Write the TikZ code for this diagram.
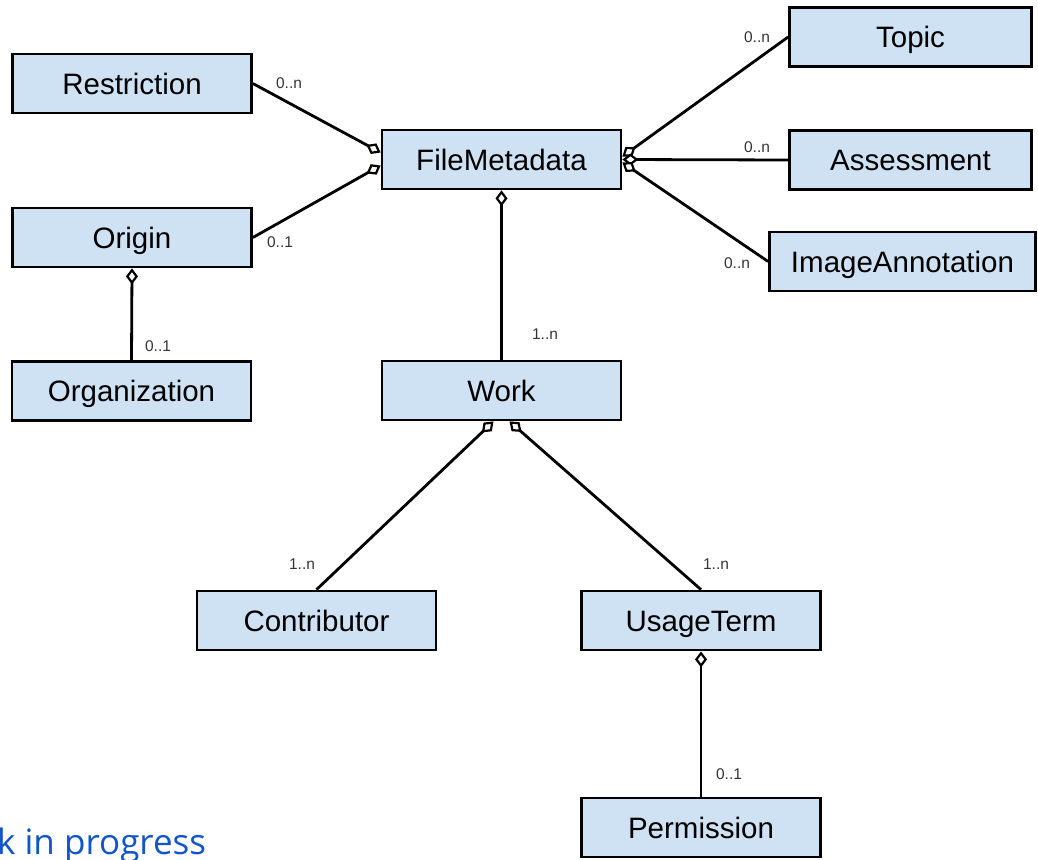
\documentclass[tikz,border=0pt]{standalone}
\usepackage{fontspec}
\setmainfont{Liberation Sans}
\newfontfamily\notefont{Open Sans}
\usetikzlibrary{arrows.meta}
\definecolor{boxblue}{HTML}{CFE2F3}
\definecolor{notblue}{HTML}{1155CC}
\definecolor{lblgray}{HTML}{333333}
\tikzset{
  cls/.style={draw=black, line width=2.8pt, fill=boxblue, inner sep=0pt,
    minimum width=239pt, minimum height=59pt, text height=21pt, text depth=0pt,
    font=\fontsize{29.5}{32}\selectfont},
  mult/.style={font=\fontsize{15.5}{17}\selectfont, text=lblgray, inner sep=0pt},
  agg/.style={line width=2.8pt, -{Diamond[open, fill=white, length=16pt, width=12pt, line width=2.2pt]}}
}
\begin{document}
\begin{tikzpicture}[x=1pt,y=-1pt]
\useasboundingbox (0,0) rectangle (1038,859);
% classes
\node[cls] (restriction) at (132,83.5) {Restriction};
\node[cls] (origin) at (132,237.5) {Origin};
\node[cls] (organization) at (131.5,391) {Organization};
\node[cls] (filemeta) at (501.5,159.5) {FileMetadata};
\node[cls] (work) at (501.5,390.5) {Work};
\node[cls, minimum width=242pt] (topic) at (910.5,37) {Topic};
\node[cls, minimum width=242pt] (assessment) at (910.5,160) {Assessment};
\node[cls, minimum width=266pt] (imageann) at (902.5,261.5) {ImageAnnotation};
\node[cls] (contributor) at (316.5,620.5) {Contributor};
\node[cls] (usageterm) at (701,620.5) {UsageTerm};
\node[cls] (permission) at (701,827.5) {Permission};
% connectors
\draw[agg] (restriction.east) -- ([yshift=7pt]filemeta.west);
\draw[agg] (origin.east) -- ([yshift=-6pt]filemeta.west);
\draw[agg] (organization.north) -- (origin.south);
\draw[agg] (topic.west) -- ([yshift=3pt]filemeta.east);
\draw[agg] (assessment.west) -- ([yshift=0pt]filemeta.east);
\draw[agg] (imageann.west) -- ([yshift=-3pt]filemeta.east);
\draw[agg] (work.north) -- (filemeta.south);
\draw[agg] (contributor.north) -- ([xshift=-8pt]work.south);
\draw[agg] (usageterm.north) -- ([xshift=8pt]work.south);
\draw[agg] (permission.north) -- (usageterm.south);
% multiplicities
\node[mult] (m1) at (289,83) {0..n};
\node[mult] (m2) at (280,242) {0..1};
\node[mult] (m3) at (158,346) {0..1};
\node[mult] (m4) at (757,37) {0..n};
\node[mult] (m5) at (757,147) {0..n};
\node[mult] (m6) at (737,263) {0..n};
\node[mult] (m7) at (545,334) {1..n};
\node[mult] (m8) at (302,564) {1..n};
\node[mult] (m9) at (716,564) {1..n};
\node[mult] (m10) at (729,774) {0..1};
% footer note
\node[anchor=base west, inner sep=0pt, text=notblue, font=\notefont\fontsize{35}{40}\selectfont] (note) at (-3,854) {k in progress};
\end{tikzpicture}
\end{document}
